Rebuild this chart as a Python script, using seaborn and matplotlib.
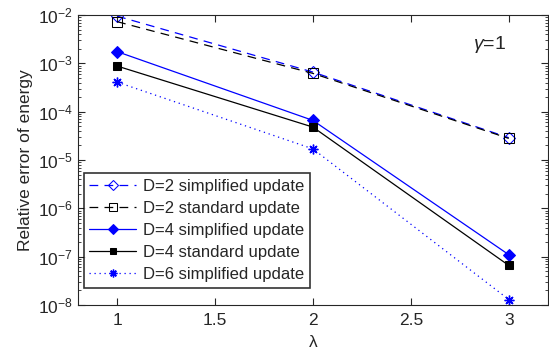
import matplotlib
matplotlib.use("Agg")
import matplotlib.pyplot as plt
import seaborn as sns
import pandas as pd
import numpy as np

lam = [1, 2, 3]
d2_simplified = [9.5e-3, 6.6e-4, 2.9e-5]
d2_standard = [7.3e-3, 6.2e-4, 2.8e-5]
d4_simplified = [1.75e-3, 6.6e-5, 1.1e-7]
d4_standard = [8.8e-4, 4.8e-5, 6.6e-8]
d6_simplified = [4.1e-4, 1.7e-5, 1.3e-8]
labels = ["D=2 simplified update", "D=2 standard update", "D=4 simplified update",
          "D=4 standard update", "D=6 simplified update"]

sns.set_style("ticks")
plt.rcParams['font.family'] = ['Liberation Sans', 'DejaVu Sans']
plt.rcParams['mathtext.fontset'] = 'custom'
plt.rcParams['mathtext.rm'] = 'Liberation Sans'
plt.rcParams['mathtext.it'] = 'Liberation Sans:italic'

fig = plt.figure(figsize=(5.49, 3.58), dpi=100)
ax = fig.add_axes([0.142, 0.148, 0.856, 0.81])

styles = [
    (d2_simplified, dict(color='blue', linestyle=(0, (7, 5)), marker='D', markersize=6.5,
                         markerfacecolor='none', markeredgecolor='blue', linewidth=0.9)),
    (d2_standard, dict(color='black', linestyle=(0, (7, 5)), marker='s', markersize=7,
                       markerfacecolor='none', markeredgecolor='black', linewidth=0.9)),
    (d4_simplified, dict(color='blue', linestyle='-', marker='D', markersize=6.5,
                         markerfacecolor='blue', markeredgecolor='blue', linewidth=0.9)),
    (d4_standard, dict(color='black', linestyle='-', marker='s', markersize=6,
                       markerfacecolor='black', markeredgecolor='black', linewidth=0.9)),
    (d6_simplified, dict(color='blue', linestyle=(0, (1, 3)), marker=(8, 2, 0), markersize=7,
                         markeredgewidth=1.0, markeredgecolor='blue', linewidth=0.9)),
]
for (vals, kw), lab in zip(styles, labels):
    df = pd.DataFrame({"lam": lam, "val": vals})
    sns.lineplot(data=df, x="lam", y="val", ax=ax, label=lab, **kw)

ax.set_yscale('log')
ax.set_xlim(0.8, 3.2)
ax.set_ylim(1e-8, 1e-2)
ax.set_xticks([1, 1.5, 2, 2.5, 3])
ax.set_xticklabels(["1", "1.5", "2", "2.5", "3"])
ax.set_yticks([10.0**k for k in range(-8, -1)])
ax.tick_params(which='both', direction='in', top=True, right=True, labelsize=12.5)
ax.tick_params(axis='x', pad=6)
ax.tick_params(which='major', length=5)
ax.tick_params(which='minor', length=2.5)
ax.set_xlabel("λ", fontsize=12.5, labelpad=5)
ax.set_ylabel("Relative error of energy", fontsize=12.5, labelpad=4)
for s in ax.spines.values():
    s.set_linewidth(0.8)
ax.text(2.82, 2.0e-3, r"$\gamma$=1", fontsize=14)
leg = ax.legend(loc='lower left', bbox_to_anchor=(0.012, 0.06), fontsize=12, frameon=True,
                fancybox=False, edgecolor='black', borderaxespad=0.0, handlelength=2.8,
                labelspacing=0.42, borderpad=0.35, handletextpad=0.4, markerscale=0.8)
leg.get_frame().set_linewidth(1.2)
fig.savefig("out.png", dpi=100)
